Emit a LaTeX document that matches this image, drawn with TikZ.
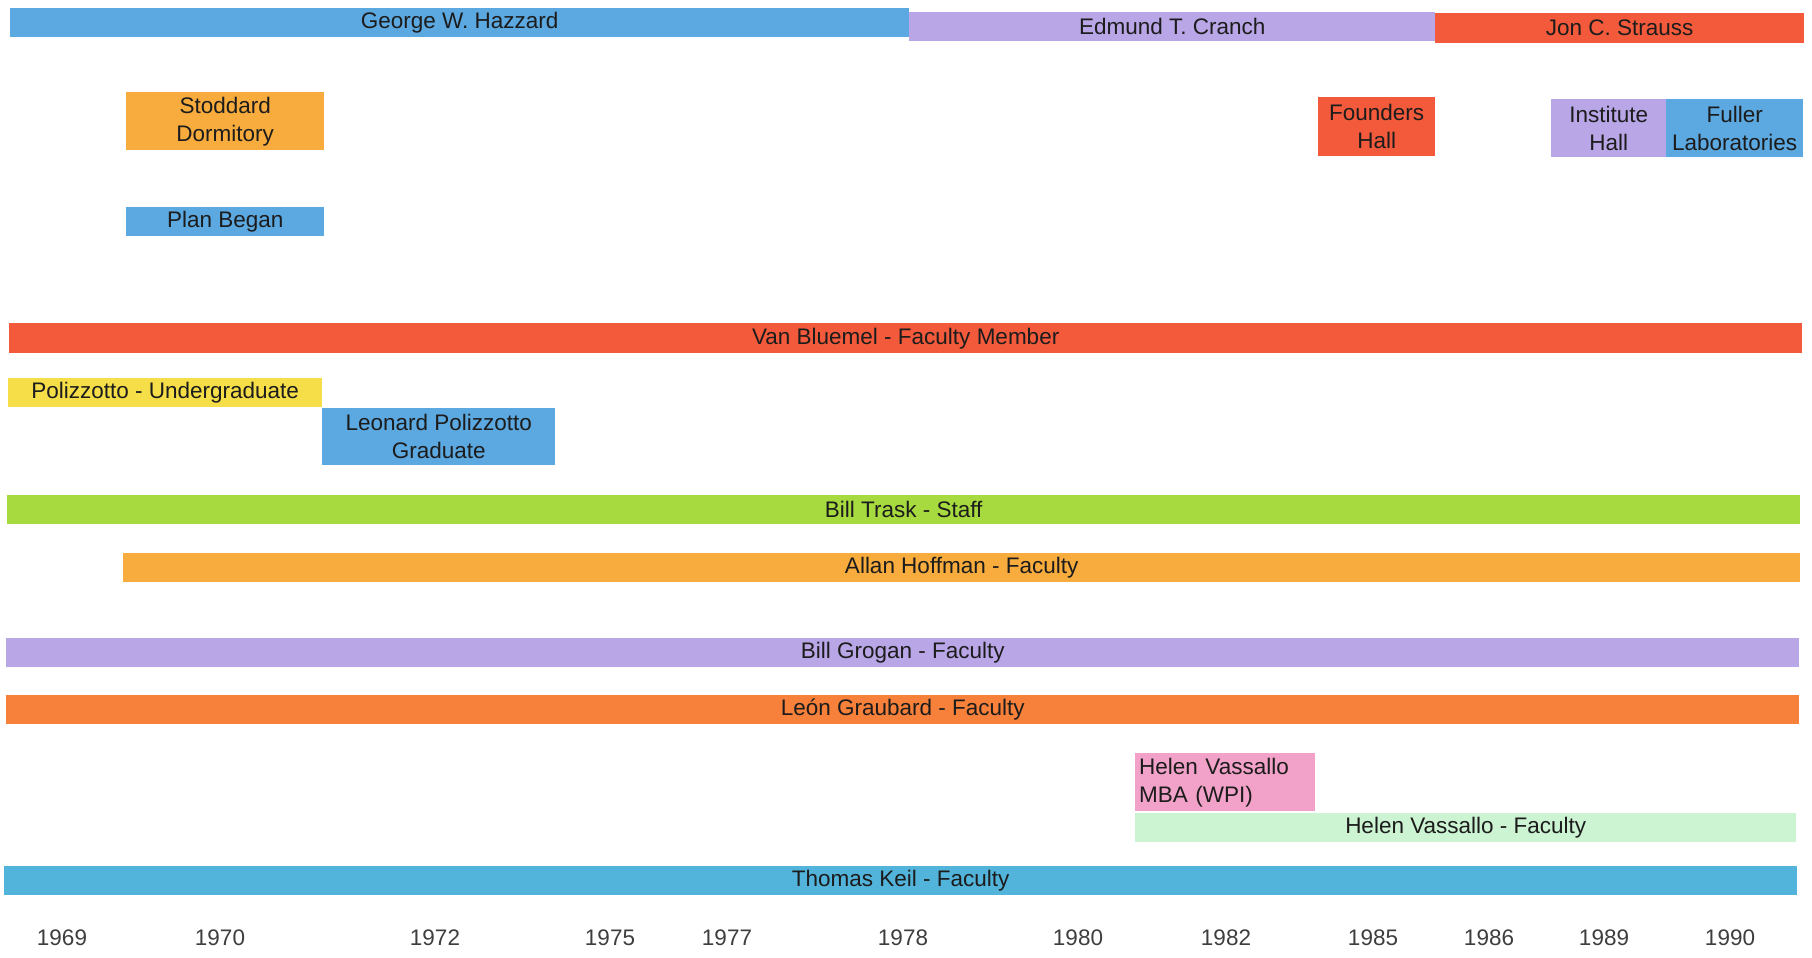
\documentclass[tikz,border=0pt]{standalone}
\usepackage{fontspec}
\setmainfont{Liberation Sans}
\usetikzlibrary{positioning}
\definecolor{ink}{HTML}{1C1C1C}
\definecolor{wpiblue}{HTML}{5CA8E0}
\definecolor{lilac}{HTML}{B9A6E6}
\definecolor{tomato}{HTML}{F25A3B}
\definecolor{gold}{HTML}{F8AC3E}
\definecolor{lemon}{HTML}{F5DE47}
\definecolor{lime}{HTML}{A6DA3E}
\definecolor{carrot}{HTML}{F7803A}
\definecolor{rose}{HTML}{F2A2C8}
\definecolor{mint}{HTML}{CCF3D2}
\definecolor{teal}{HTML}{52B4DA}

\begin{document}
\begin{tikzpicture}[x=1pt, y=-1pt,
    font=\fontsize{22.5}{28}\selectfont,
    bar/.style={rectangle, anchor=north west, inner sep=0pt, align=center, text=ink},
    yr/.style={text=ink!85}]
    \useasboundingbox[fill=white] (0,0) rectangle (1812,958);

    % presidents
    \node[bar, fill=wpiblue, minimum width=899pt, minimum height=29pt] (hazzard) at (10,8) {George W. Hazzard};
    \node[bar, fill=lilac, minimum width=526pt, minimum height=29pt] (cranch) at (909,12) {Edmund T. Cranch};
    \node[bar, fill=tomato, minimum width=369pt, minimum height=30pt] (strauss) at (1435,13) {Jon C. Strauss};

    % buildings
    \node[bar, fill=gold, minimum width=198pt, minimum height=58pt] (stoddard) at (126,92) {Stoddard\\Dormitory};
    \node[bar, fill=wpiblue, minimum width=198pt, minimum height=29pt] (plan) at (126,207) {Plan Began};
    \node[bar, fill=tomato, minimum width=117pt, minimum height=59pt] (founders) at (1318,97) {Founders\\Hall};
    \node[bar, fill=lilac, minimum width=115pt, minimum height=58pt] (institute) at (1551,99) {Institute\\Hall};
    \node[bar, fill=wpiblue, minimum width=137pt, minimum height=58pt] (fuller) at (1666,99) {Fuller\\Laboratories};

    % people
    \node[bar, fill=tomato, minimum width=1793pt, minimum height=30pt] (bluemel) at (9,323) {Van Bluemel - Faculty Member};
    \node[bar, fill=lemon, minimum width=314pt, minimum height=29pt] (undergrad) at (8,378) {Polizzotto - Undergraduate};
    \node[bar, fill=wpiblue, minimum width=233pt, minimum height=57pt] (leonard) at (322,408) {Leonard Polizzotto\\Graduate};
    \node[bar, fill=lime, minimum width=1793pt, minimum height=29pt] (trask) at (7,495) {Bill Trask - Staff};
    \node[bar, fill=gold, minimum width=1677pt, minimum height=29pt] (hoffman) at (123,553) {Allan Hoffman - Faculty};
    \node[bar, fill=lilac, minimum width=1793pt, minimum height=29pt] (grogan) at (6,638) {Bill Grogan - Faculty};
    \node[bar, fill=carrot, minimum width=1793pt, minimum height=29pt] (graubard) at (6,695) {León Graubard - Faculty};
    \node[bar, fill=rose, minimum width=180pt, minimum height=58pt, text width=172pt, inner xsep=4pt, align=left] (mba) at (1135,753) {Helen Vassallo\\MBA (WPI)};
    \node[bar, fill=mint, minimum width=661pt, minimum height=29pt] (vassallo) at (1135,813) {Helen Vassallo - Faculty};
    \node[bar, fill=teal, minimum width=1793pt, minimum height=29pt] (keil) at (4,866) {Thomas Keil - Faculty};

    % years
    \foreach \xx/\yy in {62/1969, 220/1970, 435/1972, 610/1975, 727/1977, 903/1978,
                         1078/1980, 1226/1982, 1373/1985, 1489/1986, 1604/1989, 1730/1990}
        \node[yr] (y\yy) at (\xx,938) {\yy};
\end{tikzpicture}
\end{document}
